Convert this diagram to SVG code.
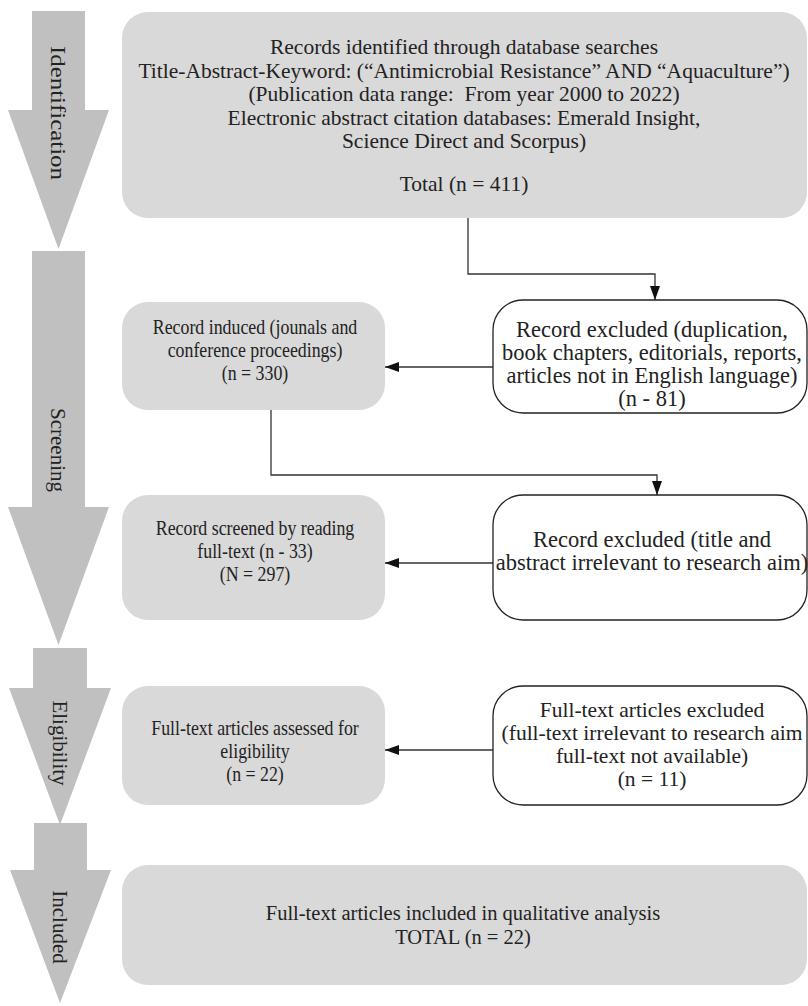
<svg xmlns="http://www.w3.org/2000/svg" width="808" height="1006" viewBox="0 0 808 1006">
<style>
.stage{fill:#c0c0c0}
.lbl{font-family:"Liberation Serif","Times New Roman",serif;font-size:21px;fill:#222;text-anchor:middle}
.gbox{fill:#d9d9d9}
.wbox{fill:#fff;stroke:#222;stroke-width:1.3}
.t{font-family:"Liberation Serif","Times New Roman",serif;font-size:21.5px;fill:#222;text-anchor:middle}
.tl{font-size:21px}
.tr{font-size:22.5px}
.tb{font-size:20.5px}
.con{fill:none;stroke:#333;stroke-width:1.3}
</style>
<defs>
<marker id="ah" viewBox="0 0 14 10" refX="14" refY="5" markerWidth="14" markerHeight="10" markerUnits="userSpaceOnUse" orient="auto">
<path d="M0 0 L14 5 L0 10 Z" fill="#111"/>
</marker>
</defs>
<rect width="808" height="1006" fill="#fff"/>
<g id="stage-identification">
<polygon class="stage" points="32,11 85,11 85,110 109,110 58.5,249 8,110 32,110"/>
<text class="lbl" transform="translate(58,113) rotate(90)" y="7" textLength="134" lengthAdjust="spacingAndGlyphs">Identification</text>
</g>
<g id="stage-screening">
<polygon class="stage" points="32,251 85,251 85,507 109,507 58.5,645 8,507 32,507"/>
<text class="lbl" transform="translate(58,450) rotate(90)" y="7">Screening</text>
</g>
<g id="stage-eligibility">
<polygon class="stage" points="33,648 87,648 87,688 111,688 60,825 9,688 33,688"/>
<text class="lbl" transform="translate(60,743) rotate(90)" y="7">Eligibility</text>
</g>
<g id="stage-included">
<polygon class="stage" points="34,823 87,823 87,870 111,870 60,1003 10,870 34,870"/>
<text class="lbl" transform="translate(60,927) rotate(90)" y="7">Included</text>
</g>
<g id="connectors">
<path class="con" d="M468 218 V274 H655 V300" marker-end="url(#ah)"/>
<path class="con" d="M271 410 V475 H657 V495" marker-end="url(#ah)"/>
<path class="con" d="M493 367 H385" marker-end="url(#ah)"/>
<path class="con" d="M493 563 H385" marker-end="url(#ah)"/>
<path class="con" d="M493 750 H385" marker-end="url(#ah)"/>
</g>
<g id="records-identified">
<rect class="gbox" x="122" y="12" width="685" height="206" rx="26"/>
<text class="t" x="464" y="54">Records identified through database searches</text>
<text class="t" x="464" y="78">Title-Abstract-Keyword: (“Antimicrobial Resistance” AND “Aquaculture”)</text>
<text class="t" x="464" y="101" xml:space="preserve">(Publication data range:  From year 2000 to 2022)</text>
<text class="t" x="464" y="125">Electronic abstract citation databases: Emerald Insight,</text>
<text class="t" x="464" y="148">Science Direct and Scorpus)</text>
<text class="t" x="464" y="191">Total (n = 411)</text>
</g>
<g id="record-induced">
<rect class="gbox" x="122" y="302" width="263" height="108" rx="26"/>
<g transform="translate(255 0) scale(0.85 1)">
<text class="t tl" x="0" y="334">Record induced (jounals and</text>
<text class="t tl" x="0" y="357">conference proceedings)</text>
<text class="t tl" x="0" y="380">(n = 330)</text>
</g>
</g>
<g id="excluded-1">
<rect class="wbox" x="493" y="300" width="314" height="113" rx="30"/>
<text class="t tr" x="652" y="337">Record excluded (duplication,</text>
<text class="t tr" x="652" y="360">book chapters, editorials, reports,</text>
<text class="t tr" x="652" y="383">articles not in English language)</text>
<text class="t tr" x="652" y="406">(n - 81)</text>
</g>
<g id="record-screened">
<rect class="gbox" x="122" y="495" width="263" height="125" rx="26"/>
<g transform="translate(255 0) scale(0.85 1)">
<text class="t tl" x="0" y="535">Record screened by reading</text>
<text class="t tl" x="0" y="558">full-text (n - 33)</text>
<text class="t tl" x="0" y="581">(N = 297)</text>
</g>
</g>
<g id="excluded-2">
<rect class="wbox" x="493" y="495" width="314" height="125" rx="30"/>
<text class="t tr" x="652" y="547">Record excluded (title and</text>
<text class="t tr" x="652" y="570">abstract irrelevant to research aim)</text>
</g>
<g id="assessed">
<rect class="gbox" x="122" y="686" width="263" height="119" rx="26"/>
<g transform="translate(255 0) scale(0.85 1)">
<text class="t tl" x="0" y="735">Full-text articles assessed for</text>
<text class="t tl" x="0" y="758">eligibility</text>
<text class="t tl" x="0" y="781">(n = 22)</text>
</g>
</g>
<g id="excluded-3">
<rect class="wbox" x="493" y="686" width="314" height="119" rx="30"/>
<text class="t" x="652" y="717">Full-text articles excluded</text>
<text class="t" x="652" y="740">(full-text irrelevant to research aim</text>
<text class="t" x="652" y="763">full-text not available)</text>
<text class="t" x="652" y="786">(n = 11)</text>
</g>
<g id="included-box">
<rect class="gbox" x="122" y="865" width="685" height="120" rx="26"/>
<text class="t tb" x="463" y="920">Full-text articles included in qualitative analysis</text>
<text class="t tb" x="463" y="944">TOTAL (n = 22)</text>
</g>
</svg>
